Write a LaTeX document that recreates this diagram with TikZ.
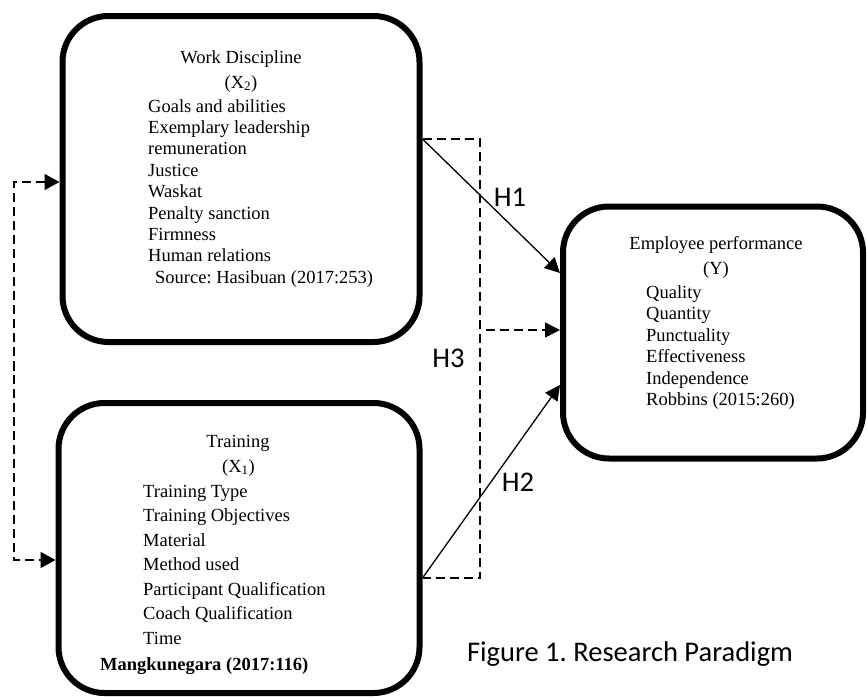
\documentclass[tikz,border=0pt]{standalone}
\usepackage{fontspec}
\setmainfont{Liberation Serif}
\newfontfamily\capfont{Carlito}
\usetikzlibrary{arrows.meta}
\frenchspacing

\begin{document}
\begin{tikzpicture}[x=1pt, y=-1pt,
    % Node styles
    varbox/.style={draw, line width=6pt, rounded corners=46pt, inner sep=0pt},
    head/.style={font=\fontsize{18.5}{21}\selectfont, anchor=base, inner sep=0pt},
    item/.style={font=\fontsize{18.5}{21}\selectfont, anchor=base west, inner sep=0pt},
    hyp/.style={font=\capfont\fontsize{28.5}{32}\selectfont, inner sep=0pt},
    % Connector styles
    link/.style={line width=1.3pt, -{Triangle[length=15pt, width=15pt]}},
    dlink/.style={line width=1.5pt, dash pattern=on 9pt off 5pt}
]
\useasboundingbox (0,0) rectangle (867,696);

% Work discipline (X2)
\node[varbox, minimum width=357pt, minimum height=326pt] (disc) at (241,179) {};
\node[head] (discT) at (241,63) {Work Discipline};
\node[head] (discX) at (241,88) {(X\textsubscript{2})};
\foreach \t [count=\i from 0] in {Goals and abilities, Exemplary leadership,
    remuneration, Justice, Waskat, Penalty sanction, Firmness, Human relations}
    \node[item] (disc-\i) at (148,112+21.4*\i) {\t};
\node[item] (discS) at (155,283) {Source: Hasibuan (2017:253)};

% Training (X1)
\node[varbox, minimum width=361pt, minimum height=290pt] (train) at (239,548) {};
\node[head] (trainT) at (238,447) {Training};
\node[head] (trainX) at (238.5,472) {(X\textsubscript{1})};
\foreach \t [count=\i from 0] in {Training Type, Training Objectives, Material,
    Method used, Participant Qualification, Coach Qualification, Time}
    \node[item] (train-\i) at (143,497+24.5*\i) {\t};
\node[item, font=\fontsize{18.5}{21}\selectfont\bfseries] (trainS) at (100,670) {Mangkunegara (2017:116)};

% Employee performance (Y)
\node[varbox, minimum width=300pt, minimum height=252pt] (perf) at (713,332.5) {};
\node[head] (perfT) at (716,249) {Employee performance};
\node[head] (perfY) at (716,274) {(Y)};
\foreach \t [count=\i from 0] in {Quality, Quantity, Punctuality, Effectiveness,
    Independence, Robbins (2015:260)}
    \node[item] (perf-\i) at (646,298+21.5*\i) {\t};

% X1 <-> X2
\coordinate (lft) at (14,370);
\draw[dlink, {Triangle[length=15pt, width=16pt]}-{Triangle[length=15pt, width=16pt]}]
    ([yshift=-3pt]disc.west) -| (lft) |- ([yshift=-12pt]train.west);

% H3 bracket
\coordinate (brk) at (480,360);
\coordinate (brkout) at (486,330);
\draw[dlink] ([yshift=40pt]disc.east) -| (brk) |- ([yshift=-30pt]train.east);
\draw[dlink, -{Triangle[length=15pt, width=15pt]}] (brkout) -- (perf.west |- brkout);

% H1, H2
\draw[link] ([yshift=40pt]disc.east) -- ([yshift=59.5pt]perf.west);
\draw[link] ([yshift=-30pt]train.east) -- ([yshift=-52.5pt]perf.west);

% Labels
\node[hyp] (h1) at (510,197) {H1};
\node[hyp] (h3) at (448.5,358.5) {H3};
\node[hyp] (h2) at (518,482) {H2};
\node[hyp, anchor=base] (cap) at (630,661) {Figure 1. Research Paradigm};

\end{tikzpicture}
\end{document}
